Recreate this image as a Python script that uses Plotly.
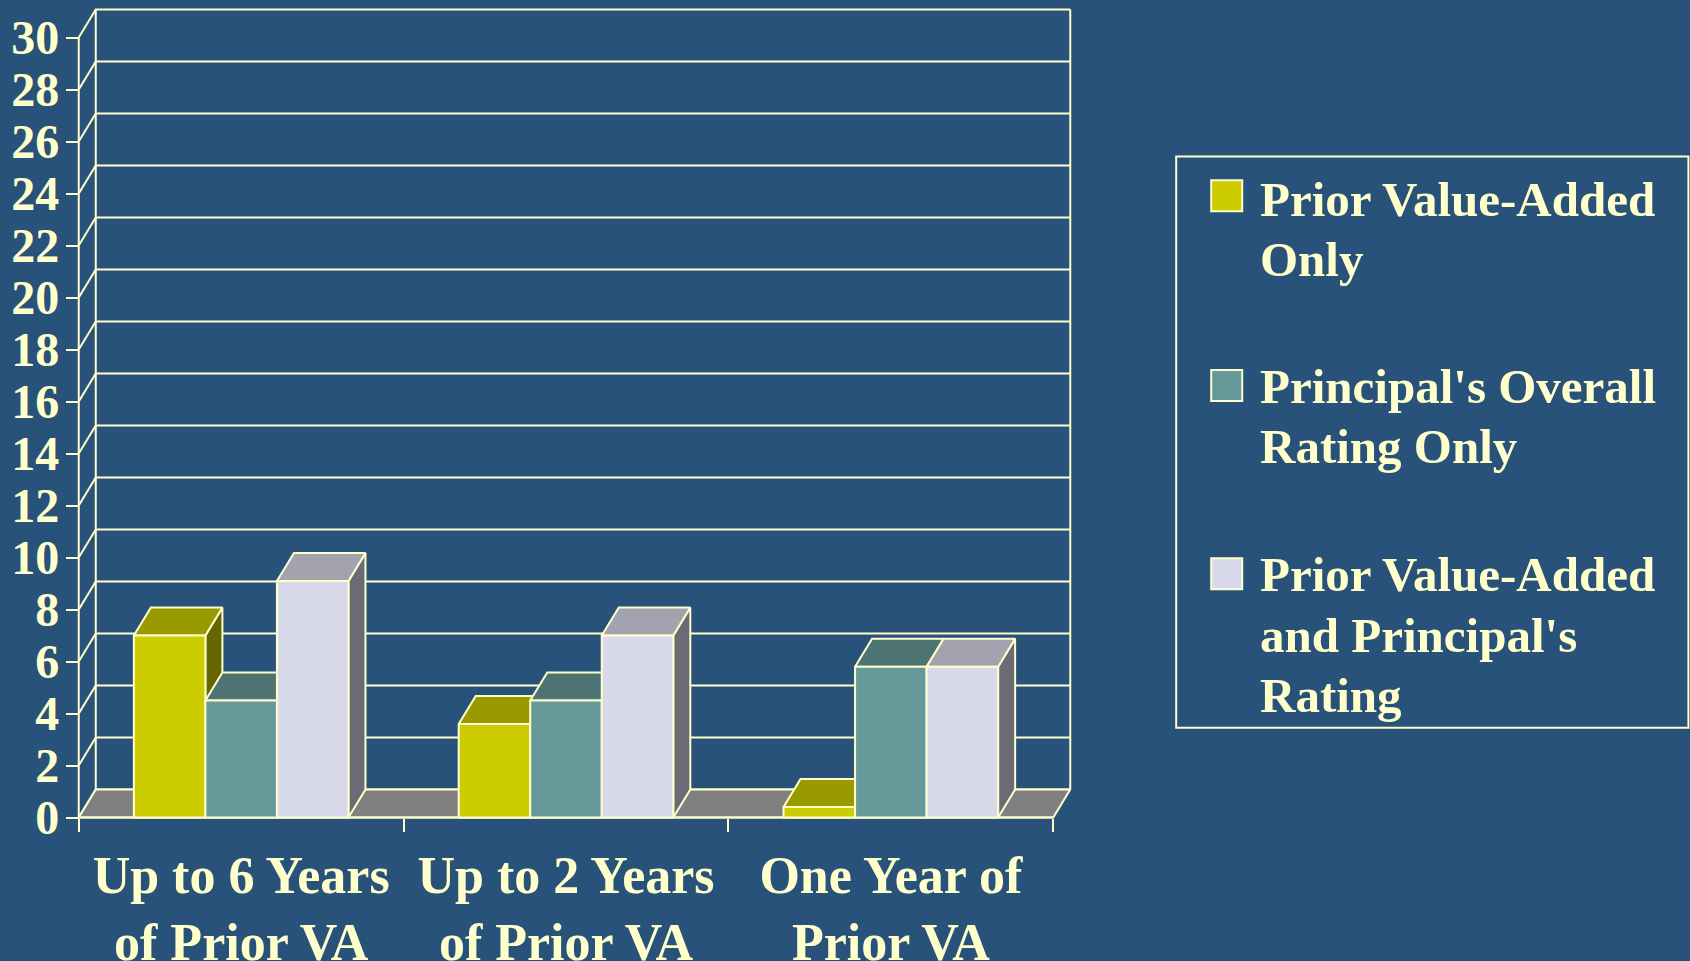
import plotly.graph_objects as go

# ---------------- data ----------------
categories = ["Up to 6 Years<br>of Prior VA", "Up to 2 Years<br>of Prior VA", "One Year of<br>Prior VA"]
series_names = ["Prior Value-Added<br>Only",
                "Principal's Overall<br>Rating Only",
                "Prior Value-Added<br>and Principal's<br>Rating"]
prior_va_only = [7.0, 3.6, 0.4]
principal_only = [4.5, 4.5, 5.8]
va_and_principal = [9.1, 7.0, 5.8]
y_ticks = list(range(0, 31, 2))
series_values = [prior_va_only, principal_only, va_and_principal]

# ---------------- style ----------------
BG = "#29527A"
FG = "#FFFFCC"
FONT = "Liberation Serif"
front_colors = ["#CCCC00", "#669999", "#D9D9EC"]
top_colors = ["#999900", "#4D7373", "#A3A3B0"]
side_colors = ["#666600", "#3F5E5E", "#6B6B75"]
floor_color = "#808080"

W, H = 1690, 961
SX, SY = 324.7, 26.0          # px per data unit
X0PX, Y0PX = 79.0, 817.3      # pixel of data origin (front corner)
DX, DY = 17 / SX, 28 / SY     # 3D depth offset in data units
XR = [-0.03, 3 + DX + 0.03]
YR = [-0.25, 30 + DY + 0.25]
left = X0PX + XR[0] * SX
right = X0PX + XR[1] * SX
top = Y0PX - YR[1] * SY
bottom = Y0PX - YR[0] * SY

n_cat = len(categories)
bar_w = 0.2202
start = 0.5 - 1.5 * bar_w

fig = go.Figure()

# back wall grid lines + diagonals
xs, ys = [], []
for v in y_ticks:
    xs += [0, DX, n_cat + DX, None]
    ys += [v, v + DY, v + DY, None]
xs += [DX, DX, None, n_cat + DX, n_cat + DX, None]
ys += [DY, y_ticks[-1] + DY, None, DY, y_ticks[-1] + DY, None]
fig.add_trace(go.Scatter(x=xs, y=ys, mode="lines", line=dict(color=FG, width=2),
                         hoverinfo="skip", showlegend=False))

# floor
fig.add_trace(go.Scatter(x=[0, n_cat, n_cat + DX, DX, 0], y=[0, 0, DY, DY, 0],
                         mode="lines", fill="toself", fillcolor=floor_color,
                         line=dict(color=FG, width=2), hoverinfo="skip", showlegend=False))

# front axis lines
fig.add_trace(go.Scatter(x=[0, 0, None, 0, n_cat], y=[y_ticks[-1], 0, None, 0, 0],
                         mode="lines", line=dict(color=FG, width=2),
                         hoverinfo="skip", showlegend=False))

# 3D bars
for s, vals in enumerate(series_values):
    fx, fy, tx, ty, sx_, sy_ = [], [], [], [], [], []
    for c, v in enumerate(vals):
        xl = c + start + s * bar_w
        xr = xl + bar_w
        fx += [xl, xr, xr, xl, xl, None]
        fy += [0, 0, v, v, 0, None]
        tx += [xl, xr, xr + DX, xl + DX, xl, None]
        ty += [v, v, v + DY, v + DY, v, None]
        sx_ += [xr, xr + DX, xr + DX, xr, xr, None]
        sy_ += [0, DY, v + DY, v, 0, None]
    for X, Y, col in [(sx_, sy_, side_colors[s]), (tx, ty, top_colors[s]), (fx, fy, front_colors[s])]:
        fig.add_trace(go.Scatter(x=X, y=Y, mode="lines", fill="toself", fillcolor=col,
                                 line=dict(color=FG, width=2), hoverinfo="skip",
                                 showlegend=False, name=series_names[s]))

fig.update_xaxes(range=XR, showgrid=False, zeroline=False, showline=False,
                 tickmode="array", tickvals=[c + 0.5 for c in range(n_cat)], ticktext=categories,
                 ticks="", ticklabelstandoff=22,
                 tickfont=dict(family=FONT, size=52, color=FG, weight="bold"),
                 anchor="free", position=(0 - YR[0]) / (YR[1] - YR[0]),
                 minor=dict(tickmode="array", tickvals=list(range(n_cat + 1)), ticks="outside",
                            ticklen=13, tickwidth=2, tickcolor=FG, showgrid=False))
fig.update_yaxes(range=YR, showgrid=False, zeroline=False, showline=False,
                 tickmode="array", tickvals=y_ticks, ticks="outside", ticklen=13,
                 tickwidth=2, tickcolor=FG, ticklabelstandoff=-3,
                 tickfont=dict(family=FONT, size=48, color=FG, weight="bold"),
                 anchor="free", position=(0 - XR[0]) / (XR[1] - XR[0]))


def px_x(p):
    return (p - left) / (right - left)


def px_y(p):
    return (bottom - p) / (bottom - top)


# legend (drawn manually)
shapes = [dict(type="rect", xref="paper", yref="paper",
               x0=px_x(1176), x1=px_x(1688), y0=px_y(727.5), y1=px_y(156.3),
               line=dict(color=FG, width=2), fillcolor="rgba(0,0,0,0)")]
annotations = []
sw_tops = [180, 369.7, 558]
line1_centers = [199.4, 385.9, 574.5]
LINE_GAP = 60.3
for i, name in enumerate(series_names):
    shapes.append(dict(type="rect", xref="paper", yref="paper",
                       x0=px_x(1211), x1=px_x(1242), y0=px_y(sw_tops[i] + 31), y1=px_y(sw_tops[i]),
                       line=dict(color=FG, width=2), fillcolor=front_colors[i]))
    for j, line in enumerate(name.split("<br>")):
        annotations.append(dict(xref="paper", yref="paper", x=px_x(1258),
                                y=px_y(line1_centers[i] + LINE_GAP * j), xanchor="left", yanchor="middle",
                                text=line, showarrow=False,
                                font=dict(family=FONT, size=49, color=FG, weight="bold")))

fig.update_layout(width=W, height=H, paper_bgcolor=BG, plot_bgcolor=BG, showlegend=False,
                  margin=dict(l=left, r=W - right, t=top, b=H - bottom, autoexpand=False),
                  shapes=shapes, annotations=annotations)

fig.write_html("out.html", config={"displayModeBar": False},
               post_script="document.body.style.margin='0';document.body.style.overflow='hidden';"
                           "document.documentElement.style.background='" + BG + "';")
